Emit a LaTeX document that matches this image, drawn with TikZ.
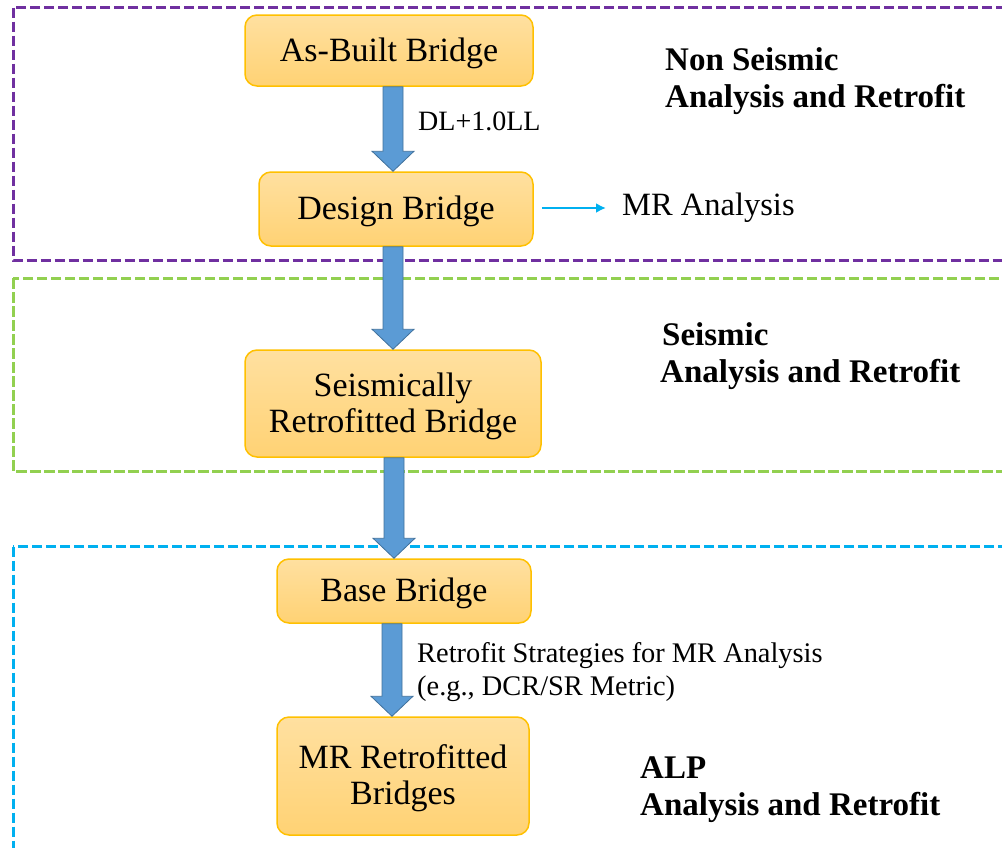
\documentclass[tikz,border=0pt]{standalone}
\usepackage{fontspec}
\setmainfont{Liberation Serif}
\usetikzlibrary{calc,arrows.meta}
\definecolor{boxedge}{HTML}{FFC000}
\definecolor{boxtop}{HTML}{FFE0A0}
\definecolor{boxbot}{HTML}{FFD274}
\definecolor{arrowfill}{HTML}{5B9BD5}
\definecolor{arrowedge}{HTML}{41719C}
\definecolor{purp}{HTML}{7030A0}
\definecolor{grn}{HTML}{92D050}
\definecolor{cyn}{HTML}{00B0F0}
\newcommand\blockarrow[3]{%
  \path let \p1=(#1.south), \p2=(#2.north) in
    [fill=arrowfill, draw=arrowedge, line width=0.8pt]
    ({#3pt-10pt},\y1) -- ({#3pt-10pt},{\y2+20pt}) -- ({#3pt-21pt},{\y2+20pt})
    -- ({#3pt},\y2) -- ({#3pt+21pt},{\y2+20pt}) -- ({#3pt+10pt},{\y2+20pt})
    -- ({#3pt+10pt},\y1) -- cycle;}
\begin{document}
\begin{tikzpicture}[x=1pt,y=-1pt,
  bridgebox/.style={draw=boxedge, line width=1.5pt, rounded corners=12pt,
    top color=boxtop, bottom color=boxbot, align=center, inner sep=0pt,
    font=\fontsize{34}{36}\selectfont, text depth=2pt},
  zone/.style={dash pattern=on 10.5pt off 3.5pt, line width=3pt},
  heading/.style={font=\bfseries\fontsize{33}{37}\selectfont, align=left,
    anchor=west, inner sep=0pt},
  note/.style={anchor=west, align=left, inner sep=0pt}]
\useasboundingbox (0,0) rectangle (1002,847);
\clip (0,0) rectangle (1002,847);
% zones
\draw[zone, purp] (13,7.5) rectangle (1020,260);
\draw[zone, grn] (13,278) rectangle (1020,471);
\draw[zone, cyn] (13,546.5) rectangle (1020,870);
% boxes
\node[bridgebox, minimum width=288pt, minimum height=71pt] (asb) at (389,50.5) {As-Built Bridge};
\node[bridgebox, minimum width=274pt, minimum height=74pt] (des) at (396,209) {Design Bridge};
\node[bridgebox, minimum width=296pt, minimum height=107pt] (sei) at (393,403.5) {Seismically\\Retrofitted Bridge};
\node[bridgebox, minimum width=254pt, minimum height=64pt] (bas) at (404,591) {Base Bridge};
\node[bridgebox, minimum width=252pt, minimum height=118pt] (mrr) at (403,776) {MR Retrofitted\\Bridges};
% block arrows
\blockarrow{asb}{des}{393}
\blockarrow{des}{sei}{393}
\blockarrow{sei}{bas}{394}
\blockarrow{bas}{mrr}{392}
% labels
\node[note, font=\fontsize{28}{32}\selectfont] (dl) at (418,121) {DL+1.0LL};
\node[note, font=\fontsize{32.5}{36}\selectfont] (mra) at (622,208) {MR Analysis};
\draw[cyn, line width=2.2pt, -{Latex[length=10pt,width=10pt]}] ($(des.east |- mra.west)+(8,0)$) -- ($(mra.west)+(-16,0)$);
\node[note, font=\fontsize{28.4}{33}\selectfont] (rs) at (417,672) {Retrofit Strategies for MR Analysis\\(e.g., DCR/SR Metric)};
\node[heading] (h1) at (665,81) {Non Seismic\\Analysis and Retrofit};
\node[heading] (h2) at (660,356) {\hspace*{2pt}Seismic\\Analysis and Retrofit};
\node[heading] (h3) at (640,790) {ALP\\Analysis and Retrofit};
\end{tikzpicture}
\end{document}
